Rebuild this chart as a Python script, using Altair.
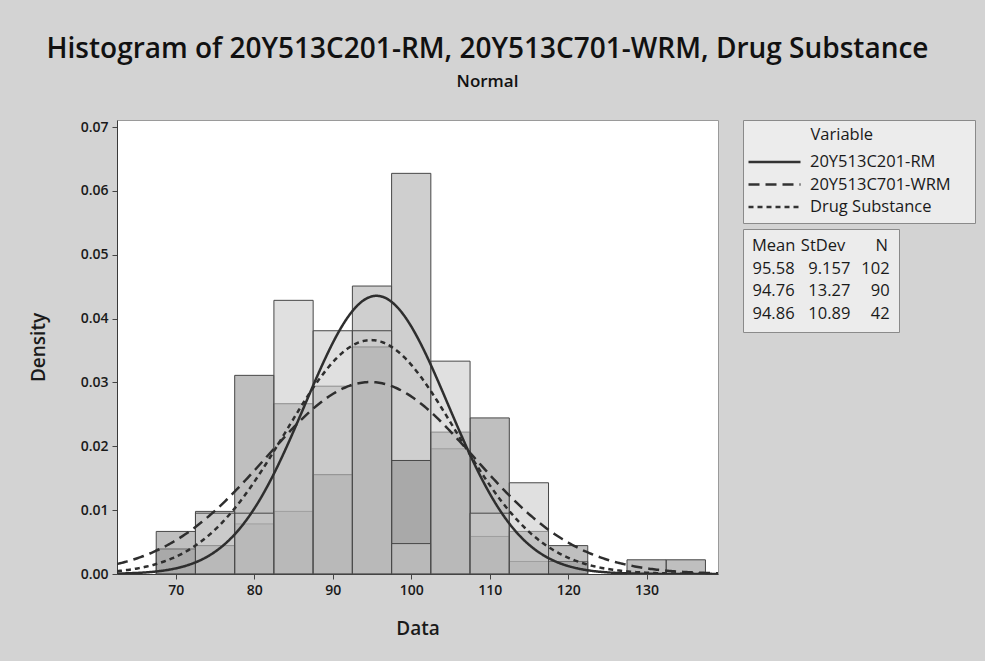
import altair as alt
import pandas as pd

# ---- data ----
variables = ["20Y513C201-RM", "20Y513C701-WRM", "Drug Substance"]
means = [95.58, 94.76, 94.86]
stdevs = [9.157, 13.27, 10.89]
ns = [102, 90, 42]

bin_starts = [67.5, 72.5, 77.5, 82.5, 87.5, 92.5, 97.5, 102.5, 107.5, 112.5, 117.5, 122.5, 127.5, 132.5]
bin_width = 5
counts_rm = [2, 5, 4, 5, 15, 23, 32, 10, 3, 1, 1, 0, 0, 0]
counts_wrm = [3, 2, 14, 12, 7, 16, 8, 10, 11, 3, 2, 0, 1, 1]
counts_ds = [0, 2, 2, 9, 8, 8, 1, 7, 2, 3, 0, 0, 0, 0]

x_ticks = [70, 80, 90, 100, 110, 120, 130]
y_ticks = [0.0, 0.01, 0.02, 0.03, 0.04, 0.05, 0.06, 0.07]

# ---- styling ----
FONT = "Open Sans"
fills = ["#a8a8a8", "#8a8a8a", "#c6c6c6"]
dashes = [[1, 0], [11, 6], [5, 4]]
EN = "\u2002"
THIN = "\u2009"
FIG = "\u2007"
ZWJ = "\u200d"

# ---- tables ----
rows = []
for var, n, counts, col in zip(variables, ns, [counts_rm, counts_wrm, counts_ds], fills):
    for b, c in zip(bin_starts, counts):
        if c > 0:
            rows.append({"variable": var, "x0": b, "x1": b + bin_width,
                         "density": c / (n * bin_width), "zero": 0, "fillcolor": col})
bars_df = pd.DataFrame(rows)

stat_labels = [f"{m:.2f}{EN}{THIN}{THIN}{s:.4g}{EN}{THIN}{str(n).rjust(3, FIG)}"
               for m, s, n in zip(means, stdevs, ns)]
stat_title = f"Mean{THIN}{THIN}StDev{EN}{EN}{EN}{THIN}{THIN}N"
stats_df = pd.DataFrame({"variable": variables, "mean": means, "sd": stdevs,
                         "n": ns, "stats": stat_labels, "zero": [0, 0, 0]})

xscale = alt.Scale(domain=[62.5, 139.1], nice=False, zero=False)
yscale = alt.Scale(domain=[0, 0.0711], nice=False)

xaxis = alt.Axis(values=x_ticks, title="Data", grid=False, tickSize=5, labelPadding=4,
                 titlePadding=22, labelFontSize=14, titleFontSize=19)
yaxis = alt.Axis(values=y_ticks, format=".2f", title="Density", grid=False, tickSize=5,
                 labelPadding=4, titlePadding=32, labelFontSize=14, titleFontSize=19)

bars = alt.Chart(bars_df).mark_rect(stroke="#474747", strokeWidth=1, fillOpacity=0.55).encode(
    x=alt.X("x0:Q", scale=xscale, axis=xaxis),
    x2="x1:Q",
    y=alt.Y("density:Q", scale=yscale, axis=yaxis),
    y2="zero:Q",
    fill=alt.Fill("fillcolor:N", scale=None),
)

curves = alt.Chart(stats_df).transform_calculate(
    xs="sequence(62.5, 139.2, 0.2)"
).transform_flatten(["xs"]).transform_calculate(
    pdf="densityNormal(datum.xs, datum.mean, datum.sd)"
).mark_line(strokeWidth=2.5, color="#2e2e2e", clip=True).encode(
    x=alt.X("xs:Q", scale=xscale),
    y=alt.Y("pdf:Q", scale=yscale),
    strokeDash=alt.StrokeDash(
        "variable:N",
        scale=alt.Scale(domain=variables, range=dashes),
        legend=alt.Legend(
            title=ZWJ + EN * 7 + THIN + "Variable", orient="none", legendX=626, legendY=0,
            direction="vertical",
            symbolType="M-2.6,0H2.6", symbolSize=400, symbolStrokeWidth=2.5,
            symbolOffset=13, symbolStrokeColor="#333333",
            fillColor="#ececec", strokeColor="#8a8a8a",
            padding=7, rowPadding=2.5, labelFontSize=16.5, titleFontSize=16.5,
            titleFontWeight="normal", titleAnchor="start", titlePadding=7,
            labelOffset=24, labelLimit=300,
            labelExpr="datum.label + '\u2002\u2002\u200d'",
        ),
    ),
)

stats_legend = alt.Chart(stats_df).mark_point(opacity=0).encode(
    x=alt.X("mean:Q", scale=xscale),
    y=alt.Y("zero:Q", scale=yscale),
    shape=alt.Shape(
        "stats:N",
        scale=alt.Scale(domain=stat_labels, range=["circle", "circle", "circle"]),
        legend=alt.Legend(
            title=stat_title, orient="none", legendX=626, legendY=109,
            direction="vertical", symbolSize=0.01, symbolOpacity=0,
            labelOffset={"expr": "-16"},
            fillColor="#ececec", strokeColor="#8a8a8a", padding=9, rowPadding=5.5,
            labelFontSize=16.5, titleFontSize=16.5, titleFontWeight="normal", titlePadding=6,
        ),
    ),
)

chart = alt.layer(bars, curves, stats_legend).properties(
    width=601,
    height=454,
    autosize=alt.AutoSizeParams(type="none"),
    padding={"left": 117, "top": 120, "right": 267, "bottom": 87},
    title=alt.TitleParams(
        text="Histogram of 20Y513C201-RM, 20Y513C701-WRM, Drug Substance",
        subtitle="Normal",
        anchor="middle", dx=70, offset=30, fontSize=28, fontWeight=600,
        subtitleFontSize=17, subtitleFontWeight=600, subtitlePadding=10,
        font=FONT, subtitleFont=FONT, color="#111111", subtitleColor="#111111",
    ),
).configure(
    background="#d3d3d3",
    font=FONT,
).configure_view(
    fill="white", stroke="#9a9a9a", strokeWidth=1,
).configure_axis(
    labelFont=FONT, titleFont=FONT, labelColor="#1a1a1a", titleColor="#1a1a1a",
    domainColor="#3a3a3a", tickColor="#444444", titleFontWeight=600, labelFontWeight=600,
).configure_legend(
    labelFont=FONT, titleFont=FONT, labelColor="#1a1a1a", titleColor="#1a1a1a",
)

chart.save("out.html", embed_options={"renderer": "svg", "actions": False})
